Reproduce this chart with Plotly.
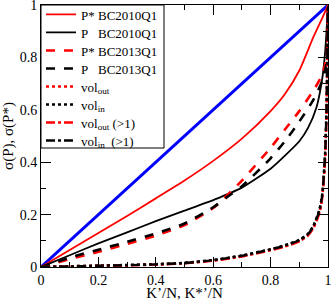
import plotly.graph_objects as go

# ---- data ----
x_diag = [0, 1]
y_diag = [0, 1]

x_p_star_2010 = [0, 0.1, 0.2, 0.3, 0.4, 0.5, 0.6, 0.7, 0.8, 0.85, 0.9, 0.95, 0.98, 1.0]
y_p_star_2010 = [0, 0.065, 0.13, 0.195, 0.262, 0.33, 0.405, 0.49, 0.595, 0.66, 0.75, 0.88, 0.95, 1.0]

x_p_2010 = [0, 0.1, 0.2, 0.3, 0.4, 0.5, 0.6, 0.65, 0.7, 0.8, 0.85, 0.9, 0.93, 0.96, 0.98, 0.99, 1.0]
y_p_2010 = [0, 0.045, 0.09, 0.132, 0.175, 0.215, 0.255, 0.278, 0.303, 0.375, 0.425, 0.48, 0.53, 0.61, 0.72, 0.82, 1.0]

x_p_star_2013 = [0, 0.1, 0.2, 0.3, 0.4, 0.5, 0.6, 0.65, 0.7, 0.8, 0.85, 0.9, 0.95, 0.98, 0.995, 1.0]
y_p_star_2013 = [0, 0.03, 0.058, 0.088, 0.12, 0.16, 0.225, 0.275, 0.33, 0.455, 0.525, 0.595, 0.675, 0.735, 0.8, 1.0]

x_p_2013 = [0, 0.1, 0.2, 0.3, 0.4, 0.5, 0.6, 0.65, 0.7, 0.8, 0.85, 0.9, 0.95, 0.98, 0.995, 1.0]
y_p_2013 = [0, 0.036, 0.066, 0.096, 0.128, 0.166, 0.228, 0.268, 0.308, 0.415, 0.48, 0.555, 0.64, 0.71, 0.78, 1.0]

x_vol = [0, 0.1, 0.2, 0.3, 0.4, 0.5, 0.6, 0.7, 0.8, 0.85, 0.9, 0.93, 0.95, 0.97, 0.98, 0.99, 0.995, 1.0]
y_vol_out = [0, 0.003, 0.005, 0.007, 0.01, 0.015, 0.025, 0.042, 0.066, 0.08, 0.1, 0.122, 0.155, 0.21, 0.27, 0.42, 0.6, 1.0]
y_vol_in = [0, 0.003, 0.005, 0.008, 0.011, 0.016, 0.027, 0.044, 0.068, 0.083, 0.104, 0.127, 0.16, 0.22, 0.28, 0.44, 0.62, 1.0]
y_vol_out_gt1 = [0, 0.002, 0.004, 0.006, 0.009, 0.014, 0.024, 0.04, 0.064, 0.078, 0.098, 0.12, 0.15, 0.205, 0.265, 0.41, 0.59, 1.0]
y_vol_in_gt1 = [0, 0.002, 0.005, 0.007, 0.01, 0.015, 0.026, 0.043, 0.067, 0.082, 0.102, 0.125, 0.158, 0.215, 0.275, 0.43, 0.61, 1.0]

names = ["P* BC2010Q1", "P\u00a0\u00a0\u00a0BC2010Q1", "P* BC2013Q1", "P\u00a0\u00a0\u00a0BC2013Q1",
         "vol<sub>out</sub>", "vol<sub>in</sub>", "vol<sub>out</sub> (>1)", "vol<sub>in</sub>\u00a0\u00a0(>1)"]

x_ticks = [0, 0.2, 0.4, 0.6, 0.8, 1]
y_ticks = [0, 0.2, 0.4, 0.6, 0.8, 1]
tick_text = ["0", "0.2", "0.4", "0.6", "0.8", "1"]

RED = "#ff0000"
BLK = "#000000"
FONT = "Liberation Serif"

# layout geometry (pixels)
W, H = 332, 301
ML, MR, MT, MB = 41, 4, 5, 34
PW, PH = W - ML - MR, H - MT - MB
LEG_RIGHT_PX, LEG_BOTTOM_PX = 164, 148
ITEM_H = 18

fig = go.Figure()
fig.add_trace(go.Scatter(x=x_diag, y=y_diag, mode="lines", line=dict(color="#0000ff", width=3), showlegend=False))

series = [
    (x_p_star_2010, y_p_star_2010, RED, "solid", 1.8),
    (x_p_2010, y_p_2010, BLK, "solid", 1.8),
    (x_p_star_2013, y_p_star_2013, RED, "dash", 2.6),
    (x_p_2013, y_p_2013, BLK, "dash", 2.6),
    (x_vol, y_vol_out, RED, "dot", 2.4),
    (x_vol, y_vol_in, BLK, "dot", 2.4),
    (x_vol, y_vol_out_gt1, RED, "dashdot", 2.4),
    (x_vol, y_vol_in_gt1, BLK, "dashdot", 2.4),
]
legend_layouts = {}
for i, ((xs, ys, c, d, w), n) in enumerate(zip(series, names)):
    lname = "legend" if i == 0 else f"legend{i + 1}"
    fig.add_trace(go.Scatter(x=xs, y=ys, mode="lines", name=n, legend=lname,
                             line=dict(color=c, dash=d, width=w, shape="spline", smoothing=0.6)))
    cy_px = MT + ITEM_H / 2 + 0.5 + ITEM_H * i
    legend_layouts[lname] = dict(
        x=0, xanchor="left", y=(PH - (cy_px - MT)) / PH, yanchor="middle",
        bgcolor="rgba(0,0,0,0)", borderwidth=0,
        font=dict(family=FONT, size=13, color="black"), itemwidth=30,
    )

# legend frame
fig.add_shape(type="rect", xref="paper", yref="paper",
              x0=0, x1=(LEG_RIGHT_PX - ML) / PW, y0=(PH - (LEG_BOTTOM_PX - MT)) / PH, y1=1,
              line=dict(color="black", width=1), fillcolor="white", layer="above")

axis_common = dict(
    range=[0, 1], showgrid=False, zeroline=False, ticks="inside", ticklen=10, tickwidth=1,
    tickcolor="black", showline=True, linewidth=1, linecolor="black", mirror="ticks",
    automargin=False, ticklabeloverflow="allow",
    tickfont=dict(family=FONT, size=14, color="black"),
    minor=dict(ticks="inside", ticklen=5, tickwidth=1, tickcolor="black", dtick=0.1, showgrid=False),
)
fig.update_xaxes(**axis_common, tickvals=x_ticks, ticktext=tick_text,
                 title=dict(text="K\u2019/N, K*\u2019/N", font=dict(family=FONT, size=15, color="black"), standoff=6))
fig.update_yaxes(**axis_common, tickvals=y_ticks, ticktext=tick_text,
                 title=dict(text="\u03c3(P), \u03c3(P*)", font=dict(family=FONT, size=15, color="black"), standoff=6))

fig.update_layout(
    width=W, height=H,
    margin=dict(l=ML, r=MR, t=MT, b=MB, autoexpand=False),
    paper_bgcolor="white", plot_bgcolor="white",
    font=dict(family=FONT, color="black"),
    showlegend=True,
    **legend_layouts,
)

fig.write_html("out.html", config={"displayModeBar": False},
               post_script="document.body.style.margin='0';document.body.style.overflow='hidden';")
